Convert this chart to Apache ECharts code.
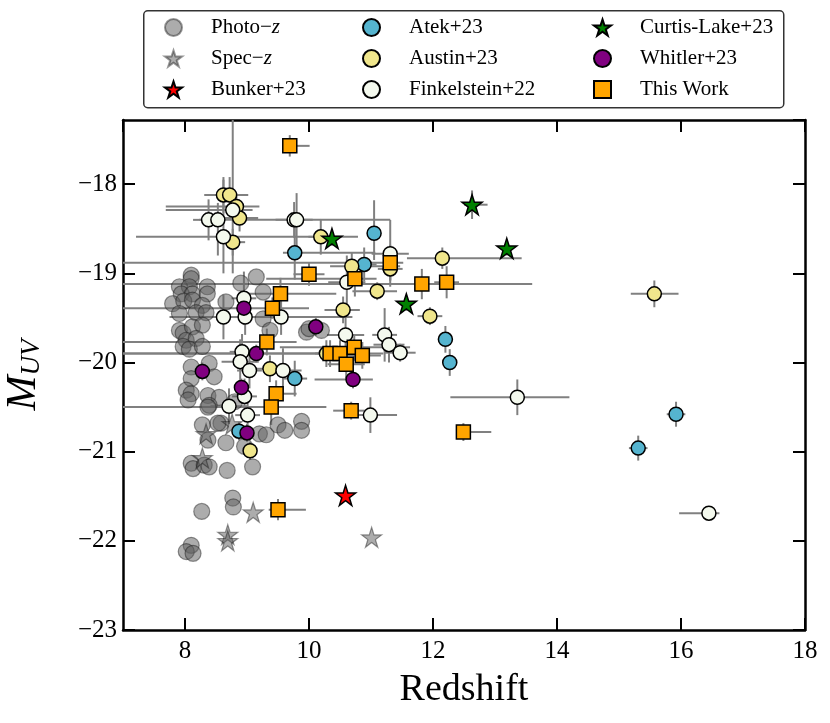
<!DOCTYPE html>
<html>
<head>
<meta charset="utf-8">
<script src="https://cdn.jsdelivr.net/npm/echarts@6/dist/echarts.min.js"></script>
<style>
  html, body { margin: 0; padding: 0; background: #fff; }
  #main { width: 830px; height: 723px; }
</style>
</head>
<body>
<div id="main"></div>
<script>
// photo-z sample: redshift / M_UV (no error bars)
const photoZ = [8.10, 8.10, 7.91, 8.07, 8.36, 7.94, 8.12, 8.36, 7.80, 7.98, 8.12, 8.28, 7.91, 8.18, 8.34, 8.66, 8.90, 9.15, 9.26,
  7.91, 7.97, 8.12, 8.28, 8.02, 8.18, 7.97, 8.07, 8.28, 9.26, 9.37, 9.96, 8.10, 8.39, 8.47, 8.10, 8.02, 8.10, 8.05, 8.37, 8.55,
  8.39, 8.80, 8.28, 8.58, 8.37, 8.66, 8.96, 9.20, 9.31, 9.50, 9.61, 9.88, 9.88, 8.10, 8.13, 8.31, 8.39, 8.68, 9.09, 8.77, 8.78,
  8.27, 8.10, 8.02, 8.13, 8.53, 10.00, 10.20, 8.37];
const photoM = [-19.02, -19.06, -19.15, -19.15, -19.15, -19.23, -19.23, -19.23, -19.34, -19.31, -19.30, -19.36, -19.45, -19.44, -19.44, -19.32, -19.11, -19.04, -19.21,
  -19.64, -19.67, -19.60, -19.58, -19.75, -19.73, -19.82, -19.85, -19.82, -19.51, -19.64, -19.66, -20.05, -20.01, -20.16, -20.18, -20.31, -20.35, -20.42, -20.37, -20.39,
  -20.48, -20.44, -20.70, -20.68, -20.87, -20.90, -20.94, -20.80, -20.81, -20.70, -20.76, -20.66, -20.76, -21.13, -21.19, -21.15, -21.17, -21.21, -21.17, -21.52, -21.62,
  -21.67, -22.05, -22.12, -22.14, -20.68, -19.62, -19.64, -20.50];

// spec-z sample
const specZ = [8.76, 8.34, 8.28, 9.10, 8.69, 8.69, 11.01];
const specM = [-20.69, -20.80, -21.07, -21.68, -21.93, -22.00, -21.96];

// Bunker+23
const bunkerZ = [10.59];
const bunkerM = [-21.49];

// Atek+23: z, M_UV, z error [minus, plus], M_UV error [minus, plus]
const atekZ = [9.77, 11.05, 10.89, 9.77, 8.87, 12.20, 12.27, 15.92, 15.31];
const atekM = [-18.77, -18.55, -18.90, -20.18, -20.77, -19.74, -20.00, -20.58, -20.96];
const atekZerr = [[0.19, 1.3], [0.1, 0.1], [0.2, 0.2], [0.2, 0.2], [0.1, 0.1], [0.12, 0.12], [0.12, 0.12], [0.15, 0.15], [0.15, 0.15]];
const atekMerr = [[0.3, 0.3], [0.3, 0.37], [0.19, 0.19], [0.2, 0.2], [0.1, 0.1], [0.15, 0.15], [0.15, 0.15], [0.14, 0.14], [0.14, 0.14]];

// Austin+23
const austinZ = [8.62, 8.72, 8.83, 8.88, 8.77, 10.19, 10.69, 11.31, 11.10, 12.15, 11.95, 10.55, 10.28, 9.37, 9.05, 15.57];
const austinM = [-18.12, -18.12, -18.25, -18.38, -18.65, -18.59, -18.92, -18.95, -19.20, -18.83, -19.48, -19.41, -19.90, -20.07, -20.99, -19.23];
const austinZerr = [[0.31, 0.37], [0.3, 0.3], [1.14, 0.37], [0.3, 0.3], [0.2, 0.2], [0.2, 0.2], [0.35, 0.78], [0.2, 0.2], [0.4, 0.32], [0.57, 1.28],
  [0.2, 0.2], [0.3, 0.27], [3.28, 0.5], [0.25, 0.25], [0.1, 0.1], [0.38, 0.39]];
const austinMerr = [[0.2, 0.2], [0.2, 0.2], [0.15, 0.15], [0.15, 0.15], [0.15, 0.15], [0.2, 0.2], [0.15, 0.15], [0.2, 0.2], [0.1, 0.1], [0.12, 0.12],
  [0.1, 0.1], [0.15, 0.15], [0.15, 0.15], [0.15, 0.15], [0.1, 0.1], [0.15, 0.15]];

// Finkelstein+22
const finkZ = [8.38, 8.53, 8.77, 8.62, 9.76, 9.80, 11.31, 10.61, 8.95, 8.62, 8.97, 9.55, 10.59, 11.22, 11.29, 11.47, 8.92, 8.89,
  9.04, 9.58, 8.96, 8.71, 9.01, 10.99, 13.36, 16.45];
const finkM = [-18.40, -18.40, -18.29, -18.59, -18.40, -18.40, -18.78, -19.10, -19.28, -19.49, -19.49, -19.49, -19.69, -19.69, -19.80, -19.89, -19.88, -19.99,
  -20.09, -20.09, -20.38, -20.49, -20.59, -20.59, -20.39, -21.69];
const finkZerr = [[0.25, 0.25], [0.3, 0.3], [1.08, 0.32], [1.41, 2.17], [0.3, 0.3], [0.81, 1.51], [0.3, 0.3], [0.3, 0.3], [0.2, 0.2], [0.87, 2.08],
  [0.2, 0.2], [0.3, 0.3], [0.3, 0.3], [0.2, 0.2], [0.25, 0.25], [0.25, 0.25], [0.2, 0.2], [0.3, 0.3], [0.2, 0.2], [0.3, 0.3],
  [0.2, 0.2], [0.3, 0.3], [0.2, 0.2], [0.29, 0.43], [1.08, 0.84], [0.48, 0.17]];
const finkMerr = [[0.23, 0.23], [0.4, 0.19], [0.71, 1.1], [0.41, 0.64], [0.2, 0.2], [0.3, 0.3], [0.3, 0.38], [0.3, 0.3], [0.3, 0.3], [0.25, 0.25],
  [0.2, 0.2], [0.2, 0.2], [0.2, 0.2], [0.3, 0.3], [0.2, 0.2], [0.1, 0.1], [0.2, 0.2], [0.25, 0.25], [0.2, 0.2], [0.25, 0.25],
  [0.2, 0.2], [0.2, 0.2], [0.2, 0.2], [0.2, 0.2], [0.2, 0.2], [0.05, 0.05]];

// Curtis-Lake+23
const curtisZ = [10.37, 12.63, 13.19, 11.57];
const curtisM = [-18.61, -18.23, -18.72, -19.34];
const curtisZerr = [[0.1, 0.1], [0.13, 0.25], [0.1, 0.1], [0.1, 0.1]];
const curtisMerr = [[0.08, 0.08], [0.16, 0.16], [0.08, 0.08], [0.08, 0.08]];

// Whitler+23
const whitlerZ = [8.95, 10.11, 9.15, 8.28, 8.91, 10.71, 9.00];
const whitlerM = [-19.39, -19.60, -19.90, -20.10, -20.28, -20.19, -20.79];
const whitlerZerr = [[0.1, 0.1], [0.1, 0.1], [0.1, 0.1], [0.1, 0.1], [0.1, 0.1], [0.62, 0.32], [0.1, 0.1]];
const whitlerMerr = [[0.1, 0.1], [0.1, 0.1], [0.1, 0.1], [0.1, 0.1], [0.1, 0.1], [0.1, 0.1], [0.1, 0.1]];

// This Work
const workZ = [9.69, 10.00, 9.54, 9.41, 9.32, 10.74, 11.31, 11.82, 12.22, 10.34, 10.50, 10.73, 10.86, 10.60, 9.47, 9.39, 10.68, 12.49, 9.50];
const workM = [-17.57, -19.01, -19.23, -19.39, -19.77, -19.06, -18.88, -19.12, -19.10, -19.90, -19.90, -19.83, -19.92, -20.02, -20.35, -20.50, -20.54, -20.78, -21.65];
const workZerr = [[0.11, 0.32], [0.25, 0.25], [0.5, 0.9], [2.41, 0.59], [2.32, 0.48], [1.43, 0.35], [4.31, 0.21], [4.82, 1.78], [0.2, 0.2], [3.34, 0.86],
  [0.4, 0.4], [1.2, 0.9], [0.3, 0.3], [0.3, 0.3], [0.07, 0.33], [2.39, 0.89], [0.29, 0.22], [0.11, 0.45], [0.15, 0.45]];
const workMerr = [[0.12, 0.12], [0.13, 0.13], [0.18, 0.18], [0.12, 0.12], [0.15, 0.15], [0.2, 0.2], [0.2, 0.2], [0.17, 0.17], [0.18, 0.18], [0.15, 0.15],
  [0.15, 0.15], [0.15, 0.15], [0.15, 0.15], [0.15, 0.15], [0.15, 0.15], [0.2, 0.2], [0.1, 0.1], [0.1, 0.1], [0.12, 0.12]];

const xTicks = [8, 10, 12, 14, 16, 18];
const yTicks = [-23, -22, -21, -20, -19, -18];

const serif = 'Liberation Serif';
const STAR = 'path://M100,0L122.45,69.1L195.1,69.1L136.3,111.8L158.8,180.9L100,138.2L41.2,180.9L63.7,111.8L4.9,69.1L77.55,69.1Z';
const minus = v => (v < 0 ? '\u2212' + Math.abs(v) : String(v));

function pts(zs, ms) {
  return zs.map((z, i) => [z, ms[i]]);
}
function errs(zs, ms, ze, me) {
  return zs.map((z, i) => [z, ms[i], ze[i][0], ze[i][1], me[i][0], me[i][1]]);
}

// error bars drawn through the axes' own coordinate conversion
function renderErr(params, api) {
  const x = api.value(0), y = api.value(1);
  const a = api.coord([x - api.value(2), y]);
  const b = api.coord([x + api.value(3), y]);
  const c = api.coord([x, y - api.value(4)]);
  const d = api.coord([x, y + api.value(5)]);
  const st = { stroke: '#808080', lineWidth: 2 };
  return {
    type: 'group',
    children: [
      { type: 'line', shape: { x1: a[0], y1: a[1], x2: b[0], y2: b[1] }, style: st },
      { type: 'line', shape: { x1: c[0], y1: c[1], x2: d[0], y2: d[1] }, style: st }
    ]
  };
}

function errSeries(name, data) {
  return {
    name: name + ' err', type: 'custom', renderItem: renderErr, data: data,
    clip: true, silent: true, z: 2,
    encode: { x: 0, y: 1 }
  };
}
function dotSeries(name, data, symbol, size, color, border) {
  return {
    name: name, type: 'scatter', data: data, symbol: symbol, symbolSize: size,
    itemStyle: { color: color, borderColor: border || '#000', borderWidth: 1.5, opacity: 1 },
    z: 2, silent: true
  };
}

const chart = echarts.init(document.getElementById('main'));

const legendText = {
  fontFamily: serif, fontSize: 21, color: '#000', padding: [0, 0, 0, 24],
  rich: { i: { fontFamily: serif, fontStyle: 'italic', fontSize: 21, color: '#000' } }
};
const legendFmt = n => n.replace('\u2212z', '\u2212{i|z}');
function legendCol(left, names) {
  return {
    orient: 'vertical', left: left, top: 12, itemWidth: 17, itemHeight: 17, itemGap: 10,
    data: names, textStyle: legendText, formatter: legendFmt, selectedMode: false
  };
}

const axisCommon = {
  type: 'value',
  axisLine: { show: true, onZero: false, lineStyle: { color: '#000', width: 2.5 } },
  axisTick: { show: true, inside: true, length: 12, lineStyle: { color: '#000', width: 2 } },
  splitLine: { show: false },
  minorTick: { show: false }
};

chart.setOption({
  animation: false,
  backgroundColor: '#fff',
  graphic: [{
    type: 'rect', left: 143, top: 10, z: 0,
    shape: { width: 640, height: 97, r: 4 },
    style: { fill: '#fff', stroke: '#333', lineWidth: 1.5 }
  }],
  legend: [
    legendCol(159, ['Photo\u2212z', 'Spec\u2212z', 'Bunker+23']),
    legendCol(357, ['Atek+23', 'Austin+23', 'Finkelstein+22']),
    legendCol(588, ['Curtis-Lake+23', 'Whitler+23', 'This Work'])
  ],
  grid: { left: 123, right: 25, top: 120, bottom: 93, containLabel: false, outerBoundsMode: 'none' },
  xAxis: [
    Object.assign({}, axisCommon, {
      min: 7, max: 18, splitNumber: 5, position: 'bottom',
      name: 'Redshift', nameLocation: 'middle', nameGap: 41,
      nameTextStyle: { fontFamily: serif, fontSize: 38, color: '#000' },
      axisLabel: {
        fontFamily: serif, fontSize: 25, color: '#000', margin: 9, showMinLabel: false,
        formatter: v => (xTicks.indexOf(v) >= 0 ? minus(v) : '')
      }
    }),
    Object.assign({}, axisCommon, {
      min: 7, max: 18, splitNumber: 5, position: 'top', axisLabel: { show: false }
    })
  ],
  yAxis: [
    Object.assign({}, axisCommon, {
      min: -23, max: -17.28, interval: 1, position: 'left',
      name: '{m|M}{s|UV}', nameLocation: 'middle', nameGap: 78, nameRotate: 90,
      nameTextStyle: {
        rich: {
          m: { fontFamily: serif, fontStyle: 'italic', fontSize: 42, color: '#000' },
          s: { fontFamily: serif, fontStyle: 'italic', fontSize: 27, color: '#000', verticalAlign: 'bottom' }
        }
      },
      axisLabel: {
        fontFamily: serif, fontSize: 25, color: '#000', margin: 6, showMaxLabel: false,
        formatter: v => (yTicks.indexOf(v) >= 0 ? minus(v) : '')
      }
    }),
    Object.assign({}, axisCommon, {
      min: -23, max: -17.28, interval: 1, position: 'right', axisLabel: { show: false }
    })
  ],
  series: [
    {
      name: 'Photo\u2212z', type: 'scatter', data: pts(photoZ, photoM), symbol: 'circle', symbolSize: 16,
      itemStyle: { color: 'rgba(95,95,95,0.65)', borderColor: 'rgba(20,20,20,0.55)', borderWidth: 1.2 },
      z: 2, silent: true
    },
    {
      name: 'Spec\u2212z', type: 'scatter', data: pts(specZ, specM), symbol: STAR, symbolSize: 20,
      itemStyle: { color: 'rgba(95,95,95,0.65)', borderColor: 'rgba(20,20,20,0.55)', borderWidth: 1.2 },
      z: 2, silent: true
    },
    dotSeries('Bunker+23', pts(bunkerZ, bunkerM), STAR, 20, '#ff0000'),
    errSeries('Atek+23', errs(atekZ, atekM, atekZerr, atekMerr)),
    dotSeries('Atek+23', pts(atekZ, atekM), 'circle', 14, '#55b4cf'),
    errSeries('Austin+23', errs(austinZ, austinM, austinZerr, austinMerr)),
    dotSeries('Austin+23', pts(austinZ, austinM), 'circle', 14, '#f0e68c'),
    errSeries('Finkelstein+22', errs(finkZ, finkM, finkZerr, finkMerr)),
    dotSeries('Finkelstein+22', pts(finkZ, finkM), 'circle', 14, '#f4f9ee'),
    errSeries('Curtis-Lake+23', errs(curtisZ, curtisM, curtisZerr, curtisMerr)),
    dotSeries('Curtis-Lake+23', pts(curtisZ, curtisM), STAR, 20, '#008000'),
    errSeries('Whitler+23', errs(whitlerZ, whitlerM, whitlerZerr, whitlerMerr)),
    dotSeries('Whitler+23', pts(whitlerZ, whitlerM), 'circle', 14, '#800080'),
    errSeries('This Work', errs(workZ, workM, workZerr, workMerr)),
    dotSeries('This Work', pts(workZ, workM), 'rect', 14, '#ffa500')
  ]
});
</script>
</body>
</html>
